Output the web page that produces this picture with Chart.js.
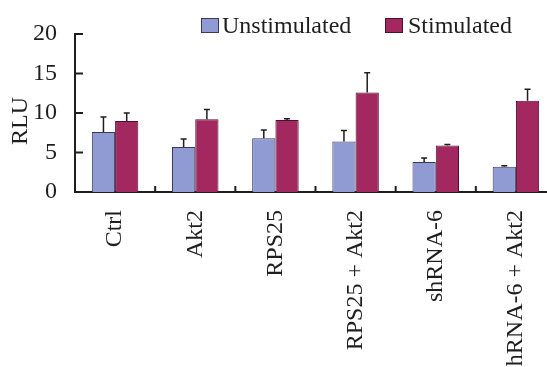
<!DOCTYPE html>
<html>
<head>
<meta charset="utf-8">
<script src="https://cdn.jsdelivr.net/npm/chart.js@4/dist/chart.umd.min.js"></script>
<style>
  html, body { margin: 0; padding: 0; background: #fff; overflow: hidden; }
  #wrap { width: 560px; height: 400px; }
</style>
</head>
<body>
<div id="wrap"><canvas id="c" width="560" height="400"></canvas></div>
<script>
// Luciferase readout per construct
const categories = ['Ctrl', 'Akt2', 'RPS25', 'RPS25 + Akt2', 'shRNA-6', 'shRNA-6 + Akt2'];
const unstimulated = [7.6, 5.7, 6.8, 6.4, 3.8, 3.2];
const unstimulatedErr = [1.9, 1.0, 1.05, 1.4, 0.5, 0.13];
const stimulated = [9.0, 9.2, 9.1, 12.6, 5.9, 11.55];
const stimulatedErr = [1.0, 1.25, 0.17, 2.5, 0.12, 1.45];
const yTicks = [0, 5, 10, 15, 20];

const FONT = "'Liberation Serif', 'Times New Roman', serif";
const INK = '#1e1e1e';
const errors = [unstimulatedErr, stimulatedErr];

// Upward error bars, inward y ticks, category separators, legend and axis title
const decorations = {
  id: 'decorations',
  afterDatasetsDraw(chart) {
    const ctx = chart.ctx;
    const area = chart.chartArea;
    const x = chart.scales.x, y = chart.scales.y;
    ctx.save();
    ctx.strokeStyle = INK;
    ctx.lineWidth = 1.5;
    chart.data.datasets.forEach((ds, di) => {
      const meta = chart.getDatasetMeta(di);
      meta.data.forEach((bar, i) => {
        const top = y.getPixelForValue(ds.data[i]);
        const end = y.getPixelForValue(ds.data[i] + errors[di][i]);
        ctx.beginPath();
        ctx.moveTo(bar.x, top);
        ctx.lineTo(bar.x, end);
        ctx.moveTo(bar.x - 3, end);
        ctx.lineTo(bar.x + 3, end);
        ctx.stroke();
      });
    });
    // inward tick marks on the value axis
    ctx.lineWidth = 2;
    yTicks.forEach(v => {
      const py = y.getPixelForValue(v);
      ctx.beginPath();
      ctx.moveTo(area.left, py);
      ctx.lineTo(area.left + 8, py);
      ctx.stroke();
    });
    // short marks between category groups
    for (let i = 1; i < categories.length; i++) {
      const px = (x.getPixelForTick(i - 1) + x.getPixelForTick(i)) / 2;
      ctx.beginPath();
      ctx.moveTo(px, area.bottom);
      ctx.lineTo(px, area.bottom - 6);
      ctx.stroke();
    }
    // axis title
    ctx.fillStyle = INK;
    ctx.font = '24px ' + FONT;
    ctx.textAlign = 'center';
    ctx.textBaseline = 'middle';
    ctx.save();
    ctx.translate(21, 121);
    ctx.rotate(-Math.PI / 2);
    ctx.fillText('RLU', 0, 0);
    ctx.restore();
    // legend
    ctx.textAlign = 'left';
    ctx.textBaseline = 'alphabetic';
    const items = [
      { label: chart.data.datasets[0].label, box: 201, text: 222, ds: chart.data.datasets[0] },
      { label: chart.data.datasets[1].label, box: 385, text: 408, ds: chart.data.datasets[1] }
    ];
    items.forEach(it => {
      ctx.fillStyle = it.ds.backgroundColor;
      ctx.fillRect(it.box, 18, 18, 15);
      ctx.lineWidth = 1;
      ctx.strokeStyle = it.ds.borderColor;
      ctx.strokeRect(it.box + 0.5, 18.5, 17, 14);
      ctx.fillStyle = INK;
      ctx.fillText(it.label, it.text, 33);
    });
    ctx.restore();
  }
};

new Chart(document.getElementById('c'), {
  type: 'bar',
  data: {
    labels: categories,
    datasets: [
      { label: 'Unstimulated', data: unstimulated, backgroundColor: '#8f9bd2', borderColor: '#3a3a58', borderWidth: 1 },
      { label: 'Stimulated', data: stimulated, backgroundColor: '#a2285f', borderColor: '#4a1030', borderWidth: 1 }
    ]
  },
  options: {
    responsive: false,
    animation: false,
    devicePixelRatio: 1,
    layout: { padding: { top: 34, right: 4, bottom: 0, left: 0 } },
    datasets: { bar: { categoryPercentage: 0.58, barPercentage: 1.0 } },
    plugins: { legend: { display: false }, tooltip: { enabled: false } },
    scales: {
      x: {
        grid: { display: false, drawTicks: false },
        border: { display: true, color: INK, width: 2 },
        ticks: {
          color: INK, font: { family: FONT, size: 24 },
          maxRotation: 90, minRotation: 90, padding: 18, autoSkip: false
        },
        afterFit(scale) {
          scale.height = 208;
          scale.paddingLeft = 0;
          scale.paddingRight = 0;
        }
      },
      y: {
        min: 0, max: 20,
        grid: { display: false, drawTicks: false },
        border: { display: true, color: INK, width: 2 },
        ticks: { stepSize: 5, color: INK, font: { family: FONT, size: 24 }, padding: 18 },
        afterBuildTicks(scale) { scale.ticks = yTicks.map(v => ({ value: v })); },
        afterFit(scale) { scale.width = 75; }
      }
    }
  },
  plugins: [decorations]
});
</script>
</body>
</html>
